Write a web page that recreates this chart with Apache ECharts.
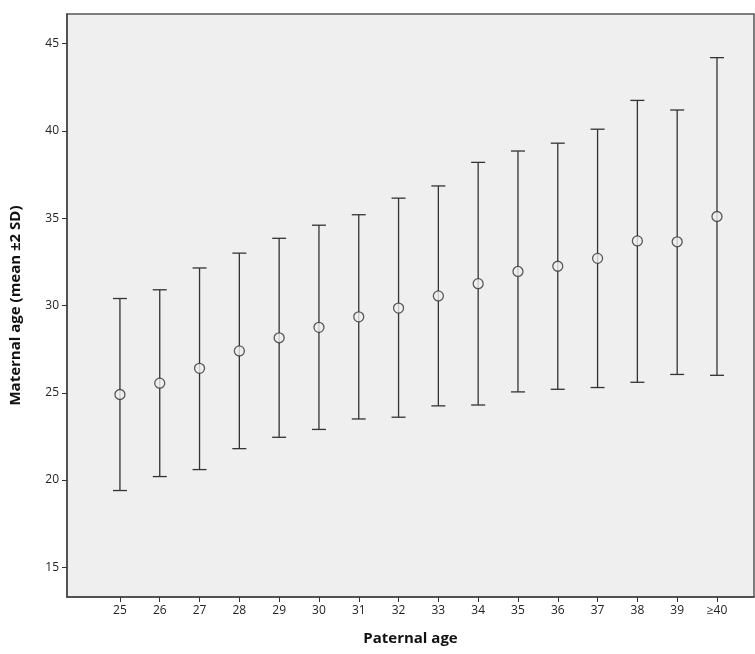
<!DOCTYPE html>
<html>
<head>
<meta charset="utf-8">
<script src="https://cdn.jsdelivr.net/npm/echarts@6/dist/echarts.min.js"></script>
<style>html,body{margin:0;padding:0;background:#fff}#chart{width:755px;height:654px}</style>
</head>
<body>
<div id="chart"></div>
<script>
const categories = ['25','26','27','28','29','30','31','32','33','34','35','36','37','38','39','≥40'];
const means = [24.9, 25.55, 26.4, 27.4, 28.15, 28.75, 29.35, 29.85, 30.55, 31.25, 31.95, 32.25, 32.7, 33.7, 33.65, 35.1];
const upper = [30.4, 30.9, 32.15, 33.0, 33.85, 34.6, 35.2, 36.15, 36.85, 38.2, 38.85, 39.3, 40.1, 41.75, 41.2, 44.2];
const lower = [19.4, 20.2, 20.6, 21.8, 22.45, 22.9, 23.5, 23.6, 24.25, 24.3, 25.05, 25.2, 25.3, 25.6, 26.05, 26.0];
const yTicks = [15, 20, 25, 30, 35, 40, 45];

const chart = echarts.init(document.getElementById('chart'));
const idx = categories.map((c, i) => i);
const axisColor = '#333';

chart.setOption({
  animation: false,
  grid: { left: 67, right: 1, top: 14, bottom: 57, show: true, backgroundColor: '#efefef', borderColor: '#555', borderWidth: 1.5 },
  xAxis: {
    type: 'value', min: -1.33, max: 15.93,
    name: 'Paternal age', nameLocation: 'middle', nameGap: 34,
    nameTextStyle: { fontFamily: 'Open Sans', fontWeight: 'bold', fontSize: 15, color: '#111' },
    splitLine: { show: false },
    axisLine: { onZero: false, lineStyle: { color: '#444', width: 1.5 } },
    axisTick: { customValues: idx, length: 5, lineStyle: { color: axisColor } },
    axisLabel: { customValues: idx, formatter: v => categories[v], color: '#222', fontFamily: 'Open Sans', fontSize: 12 }
  },
  yAxis: {
    type: 'value', min: 13.3, max: 46.7,
    name: 'Maternal age (mean ±2 SD)', nameLocation: 'middle', nameGap: 44,
    nameTextStyle: { fontFamily: 'Open Sans', fontWeight: 'bold', fontSize: 15, color: '#111' },
    splitLine: { show: false },
    axisLine: { show: true, onZero: false, lineStyle: { color: '#444', width: 1.5 } },
    axisTick: { show: true, customValues: yTicks, length: 5, lineStyle: { color: axisColor } },
    axisLabel: { customValues: yTicks, color: '#222', fontFamily: 'Open Sans', fontSize: 12 }
  },
  series: [
    {
      type: 'custom',
      data: idx.map(i => [i, lower[i], upper[i]]),
      renderItem: (params, api) => {
        const lo = api.coord([api.value(0), api.value(1)]);
        const hi = api.coord([api.value(0), api.value(2)]);
        const w = 7;
        const style = { stroke: '#333', lineWidth: 1.3 };
        return {
          type: 'group',
          children: [
            { type: 'line', shape: { x1: lo[0], y1: lo[1], x2: hi[0], y2: hi[1] }, style },
            { type: 'line', shape: { x1: lo[0] - w, y1: lo[1], x2: lo[0] + w, y2: lo[1] }, style },
            { type: 'line', shape: { x1: hi[0] - w, y1: hi[1], x2: hi[0] + w, y2: hi[1] }, style }
          ]
        };
      },
      z: 2
    },
    {
      type: 'scatter',
      data: idx.map(i => [i, means[i]]),
      symbol: 'circle', symbolSize: 10,
      itemStyle: { color: '#efefef', borderColor: '#333', borderWidth: 1.3 },
      z: 3
    }
  ]
});
</script>
</body>
</html>
